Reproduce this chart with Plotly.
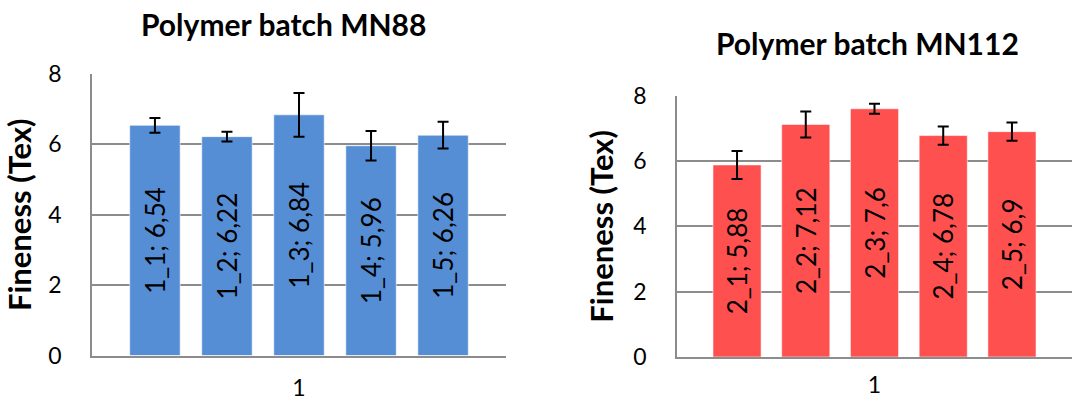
import plotly.graph_objects as go

# ---- data ----
left_names = ["1_1", "1_2", "1_3", "1_4", "1_5"]
left_values = [6.54, 6.22, 6.84, 5.96, 6.26]
left_errors = [0.21, 0.14, 0.62, 0.42, 0.38]

right_names = ["2_1", "2_2", "2_3", "2_4", "2_5"]
right_values = [5.88, 7.12, 7.6, 6.78, 6.9]
right_errors = [0.43, 0.40, 0.15, 0.28, 0.28]

category = ["1"]
left_title = "Polymer batch MN88"
right_title = "Polymer batch MN112"
y_title = "Fineness (Tex)"
y_ticks = [0, 2, 4, 6, 8]

BLUE = "#558ED5"
RED = "#FF5050"
FONT = "Lato, 'Open Sans', sans-serif"
GRID = "#8C8C8C"
W, H = 1075, 401


def fmt(v):
    return ("%g" % v).replace(".", ",")


fig = go.Figure()

for names, values, errors, color, xa, ya in [
    (left_names, left_values, left_errors, BLUE, "x", "y"),
    (right_names, right_values, right_errors, RED, "x2", "y2"),
]:
    for n, v, e in zip(names, values, errors):
        fig.add_trace(go.Bar(
            x=category, y=[v], name=n,
            xaxis=xa, yaxis=ya,
            marker=dict(color=color, line=dict(color="rgba(255,255,255,0.55)", width=1)),
            error_y=dict(type="data", array=[e], color="black", thickness=2, width=5.5),
            text=[f"{n}; {fmt(v)}"],
            textposition="inside", insidetextanchor="middle", textangle=-90,
            textfont=dict(family=FONT, size=26, color="black"),
            showlegend=False,
            hoverinfo="skip",
        ))

axis_common = dict(
    range=[0, 8], tickvals=y_ticks, showgrid=True, gridcolor=GRID, gridwidth=1.5,
    showline=True, linecolor=GRID, linewidth=1.5, ticks="", zeroline=False,
    automargin=False,
    tickfont=dict(family=FONT, size=23, color="black"), ticklabelstandoff=24,
    title=dict(text=y_title, font=dict(family=FONT, size=31, color="black", weight="bold"), standoff=10),
)
xaxis_common = dict(
    showline=True, linecolor=GRID, linewidth=1.5, ticks="", showgrid=False,
    automargin=False,
    tickfont=dict(family=FONT, size=23, color="black"),
)

fig.update_layout(
    width=W, height=H, autosize=False,
    margin=dict(l=0, r=0, t=0, b=0, pad=0),
    paper_bgcolor="white", plot_bgcolor="white",
    barmode="group", bargap=0.13, bargroupgap=0.3,
    font=dict(family=FONT, color="black"),
    uniformtext=dict(minsize=8, mode="show"),
    xaxis=dict(domain=[92 / W, 506 / W], anchor="y", ticklabelstandoff=11, **xaxis_common),
    yaxis=dict(domain=[1 - 355.5 / H, 1 - 74 / H], anchor="x", **axis_common),
    xaxis2=dict(domain=[677 / W, 1072 / W], anchor="y2", ticklabelstandoff=7, **xaxis_common),
    yaxis2=dict(domain=[1 - 357 / H, 1 - 95.7 / H], anchor="x2", **axis_common),
    annotations=[
        dict(text=left_title, xref="paper", yref="paper", x=283 / W, y=1 - 24 / H,
             showarrow=False, xanchor="center", yanchor="middle",
             font=dict(family=FONT, size=30, color="black", weight="bold")),
        dict(text=right_title, xref="paper", yref="paper", x=867.5 / W, y=1 - 43 / H,
             showarrow=False, xanchor="center", yanchor="middle",
             font=dict(family=FONT, size=30, color="black", weight="bold")),
    ],
)

fig.write_html("out.html", config={"displayModeBar": False},
               post_script="document.body.style.margin='0px';")
